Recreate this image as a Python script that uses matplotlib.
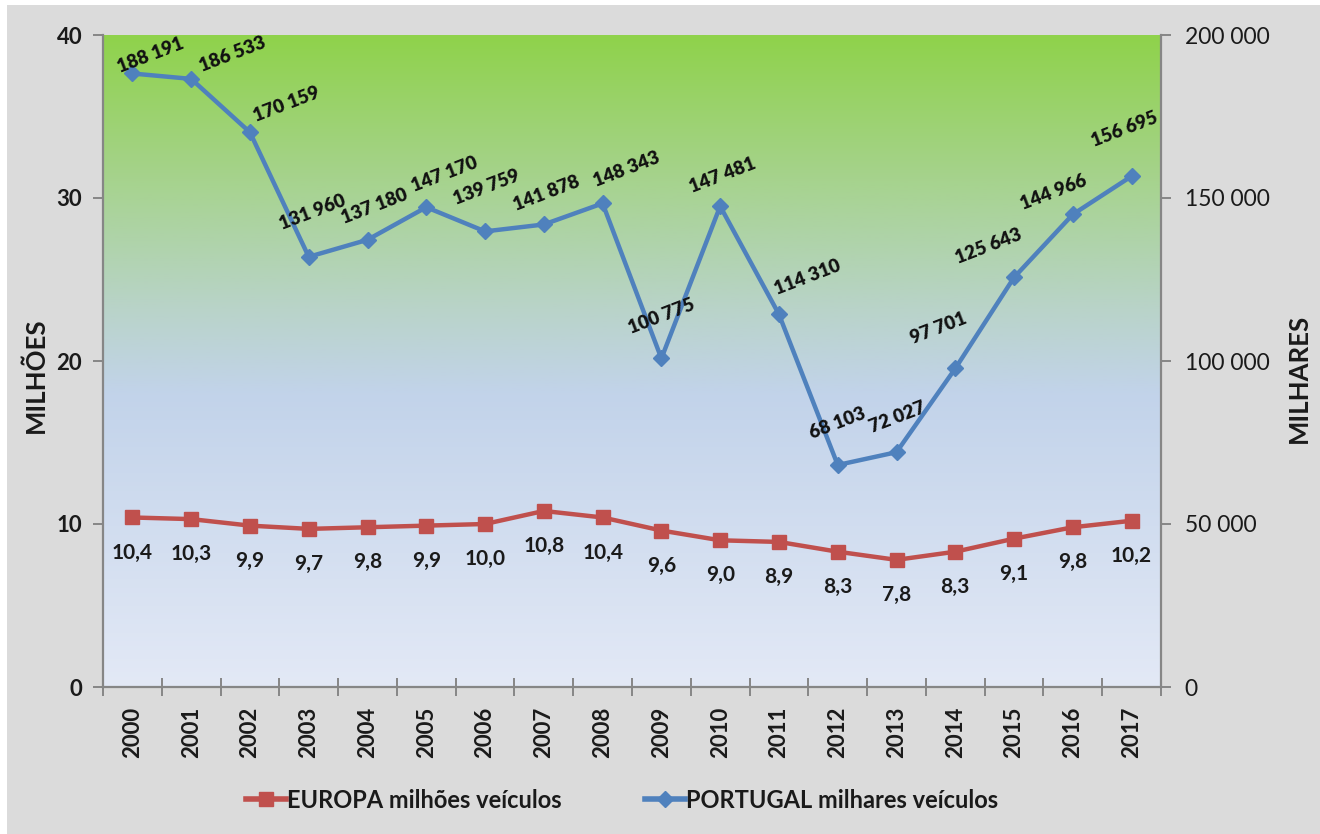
import matplotlib
matplotlib.use('Agg')
import matplotlib.pyplot as plt
import numpy as np
from matplotlib.colors import LinearSegmentedColormap
from matplotlib.patches import Rectangle
from matplotlib.lines import Line2D
from matplotlib.ticker import FixedLocator, FuncFormatter

plt.rcParams['font.family'] = ['Lato', 'DejaVu Sans']

# ---- data ----
years = [str(y) for y in range(2000, 2018)]
europa = [10.4, 10.3, 9.9, 9.7, 9.8, 9.9, 10.0, 10.8, 10.4, 9.6, 9.0, 8.9,
          8.3, 7.8, 8.3, 9.1, 9.8, 10.2]
portugal = [188191, 186533, 170159, 131960, 137180, 147170, 139759, 141878,
            148343, 100775, 147481, 114310, 68103, 72027, 97701, 125643,
            144966, 156695]
left_ticks = [0, 10, 20, 30, 40]
right_ticks = [0, 50000, 100000, 150000, 200000]
legend_labels = ['EUROPA milhões veículos', 'PORTUGAL milhares veículos']
left_title = 'MILHÕES'
right_title = 'MILHARES'

# label offsets (pixels) for Portugal data labels
pt_dx = [18, 41, 37, 4, 7, 18, 1, 3, 24, 0, 2, 29, 0, 1, -17, -26, -19, -7]
pt_dy = [18, 25, 28, 44, 33, 33, 44, 31, 34, 42, 31, 37, 42, 35, 40, 31, 22, 47]

W, H = 1320, 834
fig = plt.figure(figsize=(W / 100, H / 100), dpi=100)
fig.patch.set_facecolor('white')
fig.patches.append(Rectangle((7 / W, 0), 1, 1 - 5 / H, transform=fig.transFigure,
                             facecolor='#dbdbdb', edgecolor='none', zorder=-10))

L, R, T, B = 103, 1161, 35, 687
ax = fig.add_axes([L / W, 1 - B / H, (R - L) / W, (B - T) / H])
ax.set_facecolor('none')

# gradient background
cmap = LinearSegmentedColormap.from_list('bg', [
    (0.0, '#8fd24b'), (0.22, '#a6d38d'), (0.42, '#b9d3c9'),
    (0.55, '#c2d3ea'), (1.0, '#e3e9f6')])
grad = np.linspace(0, 1, 256).reshape(-1, 1)
ax.imshow(grad, extent=[0, 1, 0, 1], origin='upper', transform=ax.transAxes,
          aspect='auto', cmap=cmap, zorder=0, interpolation='bilinear')

x = np.arange(len(years))
ax.plot(x, europa, color='#c0504d', lw=3.2, marker='s', markersize=9.5,
        markeredgecolor='#c0504d', zorder=3, solid_joinstyle='round')
ax.set_xlim(-0.5, len(years) - 0.5)
ax.set_ylim(0, 40)

for xi, v in zip(x, europa):
    ax.annotate(f'{v:.1f}'.replace('.', ','), (xi, v), xytext=(0, -35),
                textcoords='offset pixels', ha='center', va='center',
                fontsize=15, fontweight='bold', color='#1a1a1a', zorder=5)

ax2 = ax.twinx()
ax2.set_facecolor('none')
ax2.plot(x, portugal, color='#4f81bd', lw=3.2, marker='D', markersize=8,
         markeredgecolor='#4f81bd', zorder=3)
ax2.set_ylim(0, 200000)
ax2.set_xlim(-0.5, len(years) - 0.5)

def fmt_thousands(v):
    return f'{int(v):,}'.replace(',', ' ')

for xi, v, dx, dy in zip(x, portugal, pt_dx, pt_dy):
    ax2.annotate(fmt_thousands(v), (xi, v), xytext=(dx, dy),
                 textcoords='offset pixels', ha='center', va='center',
                 rotation=21, rotation_mode='anchor',
                 fontsize=13.5, fontweight='heavy', color='#111111', zorder=5)

spine_c = '#868686'
for a in (ax, ax2):
    a.spines['top'].set_visible(False)
    for s in ('left', 'right', 'bottom'):
        a.spines[s].set_color(spine_c)
        a.spines[s].set_linewidth(1.6)

ax.spines['right'].set_visible(False)
ax2.spines['left'].set_visible(False)
ax2.spines['bottom'].set_visible(False)

ax.yaxis.set_major_locator(FixedLocator(left_ticks))
ax.tick_params(axis='y', direction='out', length=7, width=1.4, color=spine_c,
               labelsize=16, pad=8, labelcolor='#1a1a1a')
for t in ax.get_yticklabels():
    t.set_fontweight('bold')

ax2.yaxis.set_major_locator(FixedLocator(right_ticks))
ax2.yaxis.set_major_formatter(FuncFormatter(lambda v, p: fmt_thousands(v)))
ax2.tick_params(axis='y', direction='out', length=7, width=1.4, color=spine_c,
                labelsize=16.5, pad=10, labelcolor='#1a1a1a')

ax.set_xticks(x)
ax.set_xticklabels(years, rotation=90, fontsize=16, fontweight='bold',
                   color='#1a1a1a')
ax.tick_params(axis='x', which='major', length=0, pad=14)
ax.set_xticks(np.arange(-0.5, len(years), 1.0), minor=True)
ax.tick_params(axis='x', which='minor', direction='inout', length=13,
               width=1.4, color=spine_c)

ax.set_ylabel(left_title, fontsize=18.5, fontweight='bold', color='#1a1a1a')
ax.yaxis.set_label_coords((48 - L) / (R - L), (B - 375) / (B - T))
ax2.set_ylabel(right_title, fontsize=18.5, fontweight='bold', color='#1a1a1a',
               rotation=90)
ax2.yaxis.set_label_coords((1287 - L) / (R - L), (B - 378) / (B - T))

handles = [Line2D([], [], color='#c0504d', lw=4, marker='s', markersize=10),
           Line2D([], [], color='#4f81bd', lw=4, marker='D', markersize=8)]
leg = fig.legend(handles, legend_labels, loc='center',
                 bbox_to_anchor=(622 / W, 1 - 800 / H), ncol=2, frameon=False,
                 handlelength=1.7, handletextpad=0.05,
                 columnspacing=3.5, prop={'weight': 'bold', 'size': 17})
for t in leg.get_texts():
    t.set_color('#1a1a1a')

fig.savefig('out.png', dpi=100, facecolor=fig.get_facecolor())
